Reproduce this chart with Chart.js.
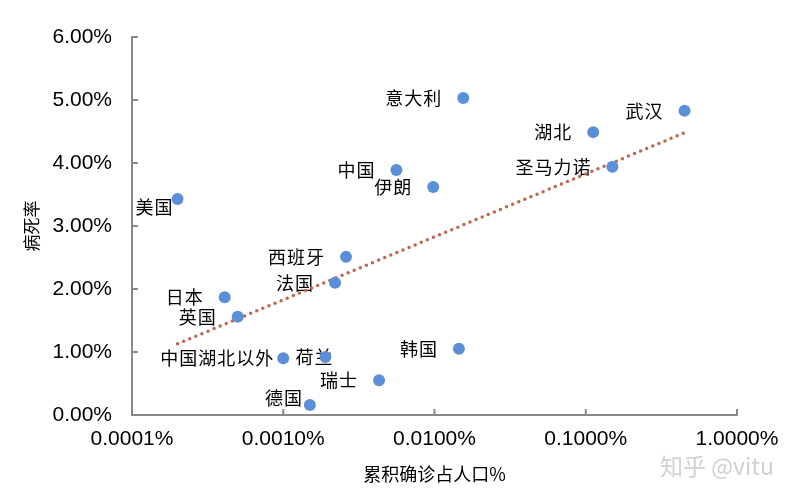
<!DOCTYPE html>
<html lang="zh">
<head>
<meta charset="UTF-8" />
<title>累积确诊占人口% 与 病死率</title>
<style>
  body { margin: 0; background: #fff; }
  #wrap { position: relative; width: 800px; height: 500px; }
  #mark {
    position: absolute; left: 660px; top: 448px;
    font: 23px "Noto Sans CJK SC"; color: #d0d0d0; white-space: nowrap;
  }
</style>
</head>
<body>
<script src="https://cdn.jsdelivr.net/npm/chart.js@4/dist/chart.umd.min.js"></script>
<div id="wrap">
  <canvas id="c" width="800" height="500"></canvas>
  <div id="mark">知乎 @vitu</div>
</div>
<script>
// places, cumulative confirmed as % of population, fatality rate %
var places = ["美国", "日本", "英国", "中国湖北以外", "荷兰", "德国", "瑞士", "法国",
  "西班牙", "中国", "伊朗", "意大利", "韩国", "湖北", "圣马力诺", "武汉"];
var confirmedPct = [0.0002, 0.00041, 0.0005, 0.001, 0.0019, 0.0015, 0.0043, 0.0022,
  0.0026, 0.0056, 0.0098, 0.0155, 0.0145, 0.112, 0.15, 0.45];
var deathRate = [3.43, 1.87, 1.56, 0.90, 0.92, 0.16, 0.55, 2.10,
  2.51, 3.89, 3.62, 5.03, 1.05, 4.49, 3.94, 4.83];

// log trend line end points
var trendX = [0.0002, 0.45];
var trendY = [1.13, 4.48];

var xTicks = [0.0001, 0.001, 0.01, 0.1, 1];
var yTicks = [0, 1, 2, 3, 4, 5, 6];

// where each label sits relative to its point (right edge of text)
var labelShift = {
  "美国": [-4, 8], "中国湖北以外": [-9, 0], "荷兰": [8, 0], "德国": [-7, -7]
};

var axisColor = "#898989";

var pointLabels = {
  id: "pointLabels",
  beforeDatasetsDraw(chart) {
    var ctx = chart.ctx;
    var meta = chart.getDatasetMeta(0);
    ctx.save();
    ctx.font = '18px "Noto Sans CJK SC"';
    ctx.letterSpacing = "1px";
    ctx.fillStyle = "#000";
    ctx.textAlign = "right";
    ctx.textBaseline = "middle";
    meta.data.forEach(function (pt, i) {
      var s = labelShift[places[i]] || [-21, 0];
      ctx.fillText(places[i], pt.x + s[0], pt.y + s[1]);
    });
    ctx.restore();
  }
};

// short tick marks pointing into the plot
var innerTicks = {
  id: "innerTicks",
  afterDraw(chart) {
    var ctx = chart.ctx, a = chart.chartArea;
    var xs = chart.scales.x, ys = chart.scales.y;
    ctx.save();
    ctx.strokeStyle = axisColor;
    ctx.lineWidth = 2;
    ctx.beginPath();
    xTicks.forEach(function (v) {
      var px = xs.getPixelForValue(v);
      ctx.moveTo(px, a.bottom);
      ctx.lineTo(px, a.bottom - 6);
    });
    yTicks.forEach(function (v) {
      var py = ys.getPixelForValue(v);
      ctx.moveTo(a.left, py);
      ctx.lineTo(a.left + 6, py);
    });
    ctx.stroke();
    ctx.restore();
  }
};

new Chart(document.getElementById("c"), {
  type: "scatter",
  data: {
    datasets: [
      {
        data: confirmedPct.map(function (x, i) { return { x: x, y: deathRate[i] }; }),
        backgroundColor: "#5b8fd8",
        borderWidth: 0,
        pointRadius: 6,
        order: 0
      },
      {
        data: trendX.map(function (x, i) { return { x: x, y: trendY[i] }; }),
        showLine: true,
        pointRadius: 0,
        borderColor: "#c0654f",
        borderWidth: 3.5,
        borderDash: [0, 6.6],
        borderCapStyle: "round",
        order: 1
      }
    ]
  },
  options: {
    responsive: false,
    animation: false,
    layout: { padding: { top: 37, right: 63, left: 0, bottom: 15 } },
    plugins: { legend: { display: false }, tooltip: { enabled: false } },
    scales: {
      x: {
        type: "logarithmic",
        min: 0.0001,
        max: 1,
        afterBuildTicks: function (s) { s.ticks = xTicks.map(function (v) { return { value: v }; }); },
        afterFit: function (s) { s.height = 70; },
        border: { color: axisColor, width: 2 },
        grid: { drawOnChartArea: false, drawTicks: false },
        ticks: {
          padding: 12,
          color: "#000",
          font: { family: "Liberation Sans", size: 21 },
          maxRotation: 0,
          callback: function (v) { return Number(v).toFixed(4) + "%"; }
        },
        title: {
          display: true,
          text: "累积确诊占人口%",
          color: "#000",
          font: { family: "Noto Sans CJK SC", size: 18 },
          padding: { top: 4, bottom: 0 }
        }
      },
      y: {
        min: 0,
        max: 6,
        afterBuildTicks: function (s) { s.ticks = yTicks.map(function (v) { return { value: v }; }); },
        afterFit: function (s) { s.width = 132; },
        border: { color: axisColor, width: 2 },
        grid: { drawOnChartArea: false, drawTicks: false },
        ticks: {
          padding: 20,
          color: "#000",
          font: { family: "Liberation Sans", size: 21 },
          callback: function (v) { return v.toFixed(2) + "%"; }
        },
        title: {
          display: true,
          text: "病死率",
          color: "#000",
          font: { family: "Noto Sans CJK SC", size: 17 },
          padding: { top: 21, bottom: 0 }
        }
      }
    }
  },
  plugins: [pointLabels, innerTicks]
});
</script>
</body>
</html>
